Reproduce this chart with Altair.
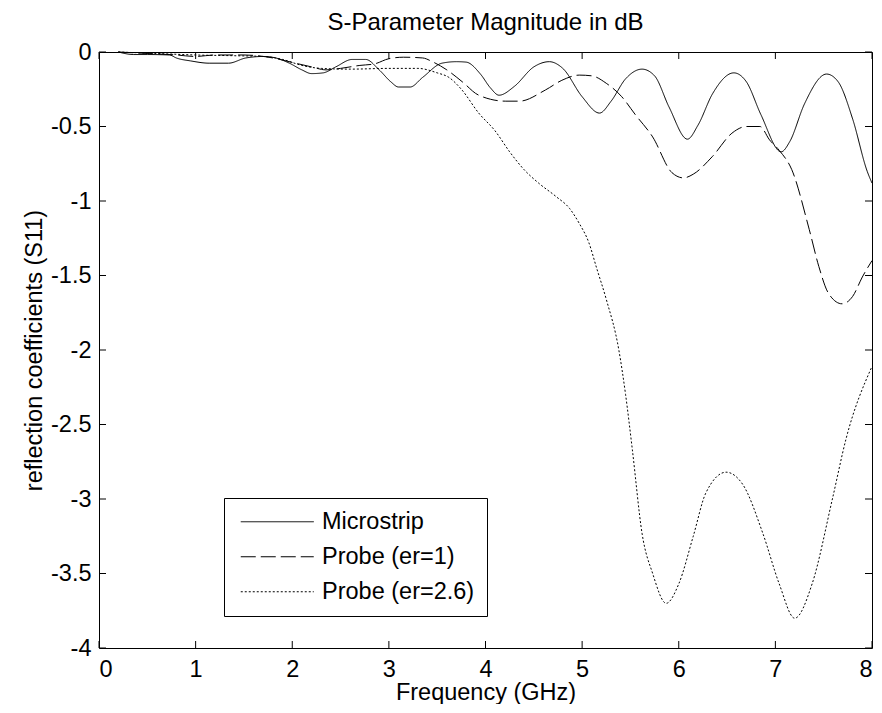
import altair as alt
import pandas as pd

# ---- data ----
series_names = ["Microstrip", "Probe (er=1)", "Probe (er=2.6)"]

micro_f = [0.2, 0.36, 0.5, 0.73, 0.8, 0.95, 1.14, 1.34, 1.52, 1.7, 1.83, 1.97, 2.1, 2.2, 2.32,
           2.45, 2.62, 2.76, 2.9, 3.02, 3.1, 3.22, 3.35, 3.55, 3.7, 3.8, 3.95, 4.05, 4.14,
           4.3, 4.5, 4.66, 4.8, 5.0, 5.18, 5.3, 5.45, 5.62, 5.75, 5.9, 6.09, 6.2, 6.35,
           6.57, 6.7, 6.85, 7.06, 7.15, 7.3, 7.53, 7.65, 7.8, 7.95, 8.0]
micro_v = [0.0, -0.017, -0.017, -0.02, -0.04, -0.06, -0.075, -0.075, -0.04, -0.03, -0.04, -0.075, -0.12, -0.145, -0.14,
           -0.1, -0.05, -0.05, -0.12, -0.2, -0.235, -0.235, -0.17, -0.075, -0.065, -0.068, -0.15, -0.24, -0.29,
           -0.23, -0.1, -0.065, -0.11, -0.3, -0.41, -0.33, -0.18, -0.115, -0.16, -0.37, -0.585, -0.49, -0.28,
           -0.14, -0.2, -0.42, -0.67, -0.6, -0.35, -0.148, -0.2, -0.45, -0.8, -0.88]

probe1_f = [0.2, 0.5, 0.8, 1.0, 1.2, 1.5, 1.8, 2.0, 2.2, 2.35, 2.5, 2.7, 2.85, 3.0, 3.15,
            3.35, 3.45, 3.6, 3.76, 3.93, 4.21, 4.35, 4.62, 4.79, 4.97, 5.1, 5.25, 5.41,
            5.55, 5.73, 5.93, 6.05, 6.15, 6.35, 6.55, 6.7, 6.84, 6.94, 7.04, 7.17, 7.35,
            7.45, 7.55, 7.69, 7.8, 7.9, 8.0]
probe1_v = [0.0, -0.01, -0.02, -0.03, -0.02, -0.02, -0.04, -0.07, -0.1, -0.12, -0.11, -0.09, -0.08, -0.045, -0.035,
            -0.04, -0.065, -0.12, -0.2, -0.29, -0.33, -0.33, -0.255, -0.19, -0.155, -0.16, -0.21, -0.3,
            -0.42, -0.57, -0.81, -0.845, -0.82, -0.7, -0.545, -0.5, -0.5, -0.59, -0.66, -0.79, -1.19,
            -1.44, -1.62, -1.69, -1.64, -1.51, -1.40]

probe26_f = [0.2, 0.6, 1.0, 1.4, 1.7, 1.9, 2.1, 2.3, 2.6, 3.0, 3.3, 3.5, 3.62, 3.75, 3.93,
             4.1, 4.25, 4.4, 4.55, 4.73, 4.87, 4.97, 5.07, 5.15, 5.25, 5.38, 5.45, 5.52,
             5.62, 5.73, 5.87, 6.0, 6.15, 6.28, 6.49, 6.66, 6.87, 7.04, 7.2, 7.38, 7.59,
             7.73, 8.0]
probe26_v = [0.0, -0.01, -0.02, -0.025, -0.03, -0.05, -0.09, -0.11, -0.115, -0.11, -0.11, -0.14, -0.17, -0.25, -0.41,
             -0.53, -0.67, -0.79, -0.88, -0.97, -1.05, -1.15, -1.28, -1.45, -1.66, -2.0, -2.3, -2.67,
             -3.23, -3.50, -3.70, -3.57, -3.25, -2.96, -2.82, -2.90, -3.23, -3.57, -3.80, -3.57, -3.0,
             -2.6, -2.11]

x_ticks = [0, 1, 2, 3, 4, 5, 6, 7, 8]
y_ticks = [0, -0.5, -1, -1.5, -2, -2.5, -3, -3.5, -4]
x_range = [0, 8]
y_range = [-4, 0]

rows = []
for name, fs, vs in [(series_names[0], micro_f, micro_v),
                     (series_names[1], probe1_f, probe1_v),
                     (series_names[2], probe26_f, probe26_v)]:
    for i, (f, v) in enumerate(zip(fs, vs)):
        rows.append({"series": name, "freq": f, "s11": v, "order": i})
df = pd.DataFrame(rows)

# tick tables for MATLAB-style inward ticks on the box edges
xt_bottom = pd.DataFrame({"freq": x_ticks, "s11": [y_range[0]] * len(x_ticks)})
xt_top = pd.DataFrame({"freq": x_ticks, "s11": [y_range[1]] * len(x_ticks)})
yt_left = pd.DataFrame({"freq": [x_range[0]] * len(y_ticks), "s11": y_ticks})
yt_right = pd.DataFrame({"freq": [x_range[1]] * len(y_ticks), "s11": y_ticks})

W, H = 773, 596
FONT = "Liberation Sans"
FS = 23.5
TL = 7  # tick length

xscale = alt.Scale(domain=x_range, nice=False, zero=False)
yscale = alt.Scale(domain=y_range, nice=False, zero=False)

lines = alt.Chart(df).mark_line(color="black", strokeWidth=1, interpolate="monotone").encode(
    x=alt.X("freq:Q", scale=xscale,
            axis=alt.Axis(orient="bottom", values=x_ticks, ticks=False, tickSize=0, domain=False, grid=False,
                          labelFont=FONT, labelFontSize=FS, labelColor="black", labelPadding=28,
                          labelBaseline="alphabetic", labelExpr="'' + datum.value",
                          title="Frequency (GHz)", titleFont=FONT, titleFontSize=FS, titleFontWeight="normal",
                          titleColor="black", titleBaseline="alphabetic", titleY=51, titleX=W / 2)),
    y=alt.Y("s11:Q", scale=yscale,
            axis=alt.Axis(orient="left", values=y_ticks, ticks=False, tickSize=0, domain=False, grid=False,
                          labelFont=FONT, labelFontSize=FS, labelColor="black", labelPadding=8,
                          labelExpr="'' + datum.value",
                          title="reflection coefficients (S11)", titleFont=FONT, titleFontSize=FS,
                          titleFontWeight="normal", titleColor="black", titleBaseline="alphabetic",
                          titleAngle=270, titleX=-58, titleY=H / 2)),
    strokeDash=alt.StrokeDash("series:N",
                              scale=alt.Scale(domain=series_names, range=[[1, 0], [15, 5], [2, 2]]),
                              legend=alt.Legend(title=None, orient="none", legendX=125, legendY=446,
                                                fillColor="white", strokeColor="black", padding=12,
                                                symbolType="M-3.65,0H3.65", symbolSize=400,
                                                symbolStrokeWidth=1, symbolStrokeColor="black",
                                                symbolOffset=29.5, labelOffset=33,
                                                labelFont=FONT, labelFontSize=FS,
                                                labelColor="black", rowPadding=10)),
    order="order:Q",
)

tick_style = dict(color="black", size=TL, thickness=1, opacity=1)
enc_x = alt.X("freq:Q", scale=xscale)
enc_y = alt.Y("s11:Q", scale=yscale)

t_bottom = alt.Chart(xt_bottom).mark_tick(orient="vertical", yOffset=-TL / 2, **tick_style).encode(x=enc_x, y=enc_y)
t_top = alt.Chart(xt_top).mark_tick(orient="vertical", yOffset=TL / 2, **tick_style).encode(x=enc_x, y=enc_y)
t_left = alt.Chart(yt_left).mark_tick(orient="horizontal", xOffset=TL / 2, **tick_style).encode(x=enc_x, y=enc_y)
t_right = alt.Chart(yt_right).mark_tick(orient="horizontal", xOffset=-TL / 2, **tick_style).encode(x=enc_x, y=enc_y)

chart = alt.layer(lines, t_bottom, t_top, t_left, t_right).properties(
    width=W, height=H,
    padding={"left": 14, "top": 3, "right": 0, "bottom": 0},
    title=alt.TitleParams("S-Parameter Magnitude in dB", font=FONT, fontSize=24, fontWeight="normal",
                          color="black", anchor="middle", offset=5),
    background="white",
).configure_view(stroke="black", strokeWidth=1)

chart.save("out.html", embed_options={"renderer": "svg", "actions": False})
